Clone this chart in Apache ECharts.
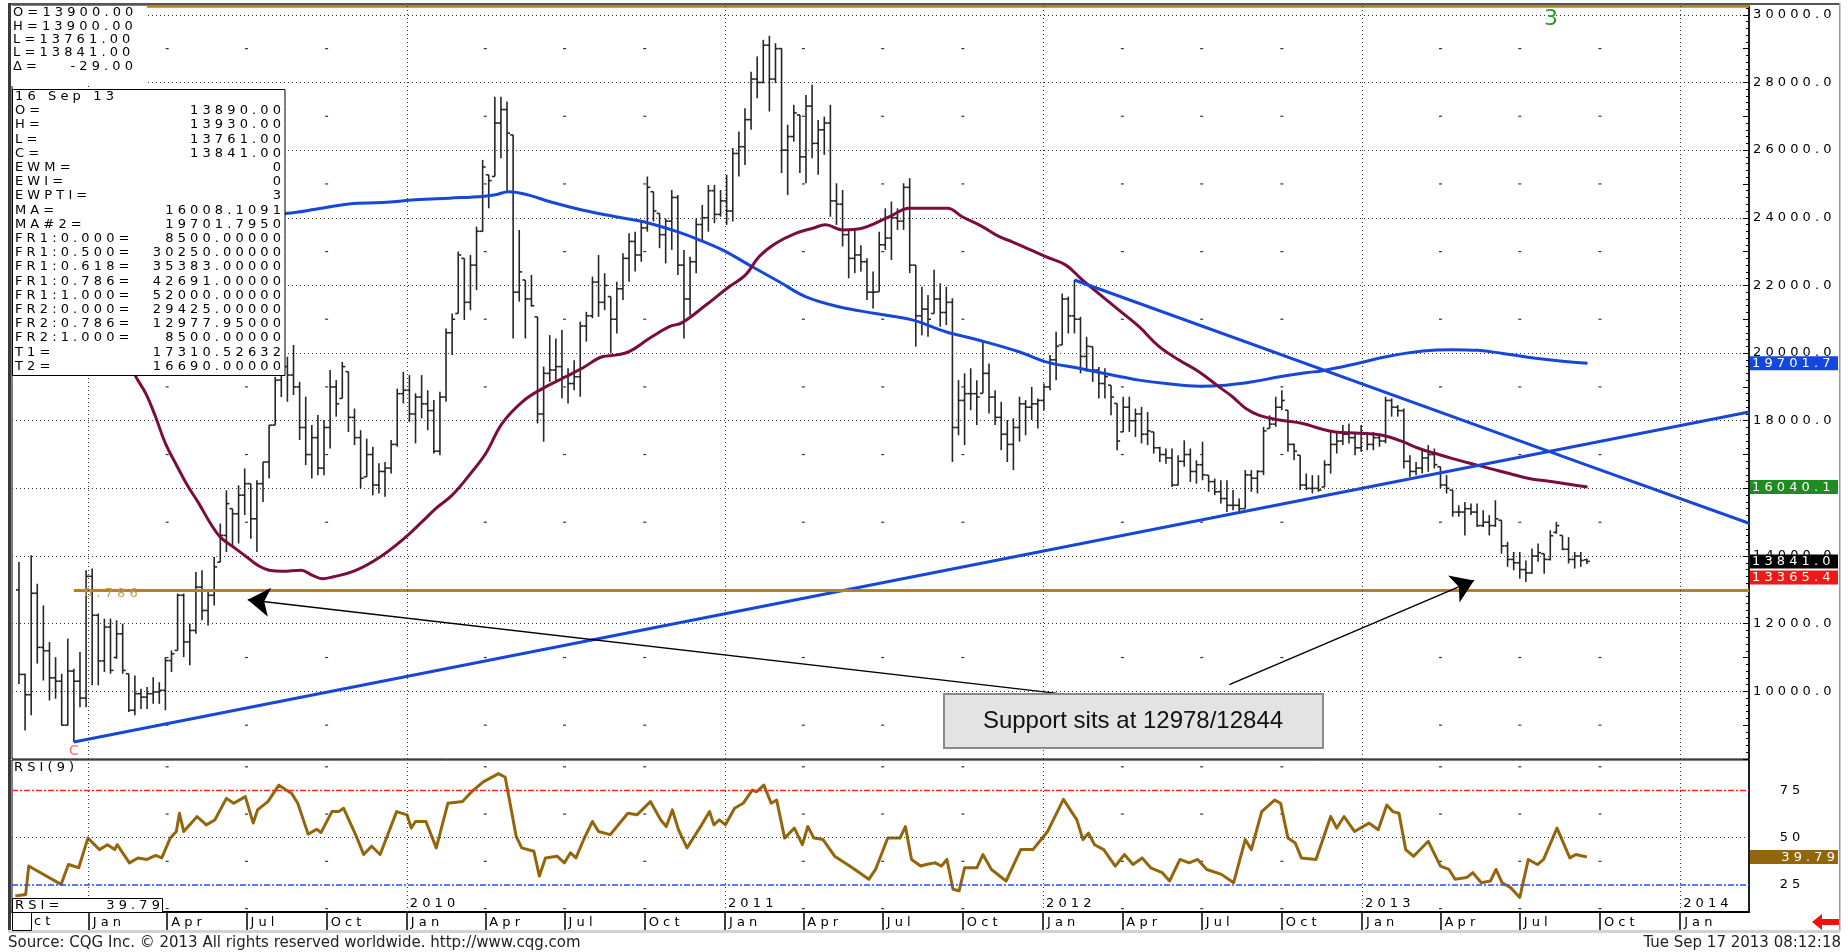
<!DOCTYPE html>
<html>
<head>
<meta charset="utf-8">
<title>Weekly chart - support 12978/12844</title>
<script src="https://cdn.jsdelivr.net/npm/echarts@6.0.0/dist/echarts.min.js"></script>
<style>
  html, body { margin: 0; padding: 0; background: #fff; }
  #chart { width: 1848px; height: 952px; }
</style>
</head>
<body>
<div id="chart"></div>
<script>
// weekly bars, first bar Mon 13 Oct 2008, last bar Mon 16 Sep 2013
const DAY = 864e5;
const firstBar = Date.UTC(2008, 9, 13);
const axisStart = Date.UTC(2008, 9, 5);
const axisEnd = Date.UTC(2014, 2, 21);

const opens = [
  13000,10500,9900,12900,11300,11200,10400,10300,9000,10600,
  10300,9800,13400,12250,10900,11900,11000,11700,10520,9440,
  9930,9830,9930,9980,10030,10910,11210,12840,11460,11800,
  13080,12390,12840,13820,14610,15400,15250,15800,16140,15100,
  16140,16780,17870,19200,19600,19350,19000,17800,17000,17500,
  16600,17800,19000,18660,19450,18100,17500,16340,17000,16100,
  16500,16600,17300,18800,18900,18200,18700,18500,18300,17100,
  18700,20600,21170,22800,21500,22600,23600,25270,25220,26800,
  27200,26450,21800,22160,21600,21070,18200,19400,19500,19600,
  19300,19100,19300,20800,21100,22100,21500,21670,21000,21900,
  22800,23300,22900,23700,24770,24130,23500,23900,24600,22600,
  21600,22700,23800,24000,24800,24100,24500,24200,25900,26100,
  26900,28100,28000,29100,28100,29000,26000,26400,27040,25800,
  27300,26200,26600,26800,24500,24400,23500,22800,22900,22700,
  21800,21810,23200,23400,24000,23900,24900,22600,21100,21300,
  21170,21600,21200,21500,17800,18600,18800,18800,18810,19400,
  18700,18100,17600,17300,17800,18500,18400,18500,18600,19000,
  19800,20240,21600,21100,21000,19900,20190,19500,19100,19050,
  18510,17670,18400,18000,18200,17600,17670,17200,17000,16900,
  16100,16800,17000,16500,16700,16390,16200,15900,15700,15500,
  15500,15400,16400,16300,16500,17770,17900,18400,18310,17300,
  16980,16100,16000,16000,16040,16700,17300,17400,17600,17500,
  17200,17600,17300,17500,17400,18600,18400,18300,16800,16500,
  16600,16900,17000,16640,16100,15950,15300,15300,15400,15300,
  14900,15000,14900,15060,14300,13900,13800,13600,13500,14000,
  14070,13900,14700,14610,14200,13900,14000,13890
];
const highs = [
  13820,10520,14020,13180,12540,11460,11010,10520,11560,10670,
  11160,13580,13630,12300,12150,12150,12100,12000,10520,10470,
  10080,10130,10420,10270,11010,11210,12890,12890,12000,13530,
  13580,12990,13970,14960,15940,15400,16090,16590,16140,16240,
  16780,17870,19300,20300,19890,20240,19150,18710,17870,18170,
  18020,19500,19200,19740,19450,18360,17720,17470,17230,16740,
  16780,17430,18950,19450,19350,18810,19350,18900,18610,18860,
  20730,21170,23000,22800,22900,23740,25710,25270,27580,27580,
  27440,26450,23640,22160,22310,21070,19600,20530,20430,20680,
  19550,19790,20930,21220,22260,22900,22360,21670,22110,22950,
  23540,23590,23890,25220,24770,24130,23980,24820,24670,23050,
  22850,23980,24380,24970,24970,24820,25270,26060,26550,27240,
  28320,28770,29260,29380,29160,29010,26750,27340,27040,27630,
  27930,26890,26990,27340,25020,24820,23640,23640,23190,22800,
  22410,23590,24280,24480,24280,25020,25170,22600,21960,21720,
  22460,22060,21960,21620,19200,19400,19550,19200,20330,19690,
  18900,18560,18020,18070,18710,18610,19000,18660,19100,19940,
  20630,21760,21670,22160,21070,20480,20190,19590,19550,19050,
  18510,18710,18710,18360,18410,18260,17670,17230,17180,17180,
  16980,17420,17180,16830,17380,16390,16290,16240,16240,15950,
  15700,16540,16540,16540,17820,18160,18710,18900,18310,17330,
  16980,16440,16390,16390,16830,17670,17670,17870,17920,17620,
  17870,17670,17670,17620,18710,18660,18460,18360,16980,16780,
  17180,17280,17180,16640,16390,15950,15500,15600,15550,15550,
  15350,15210,15650,15060,14420,14120,14120,13870,14220,14370,
  14070,14760,15010,14610,14560,14120,14120,13930
];
const lows = [
  10220,8840,9290,10820,10320,9730,9780,8990,8990,8500,
  9530,9530,10180,10180,10570,10520,10960,10520,9390,9290,
  9480,9480,9630,9630,9440,10570,11210,11010,10770,11700,
  12100,11950,12540,13820,14120,14320,14370,15210,14510,14120,
  15600,16290,17870,18700,18560,18760,17430,16690,16290,16390,
  16390,17180,18120,18660,17670,17280,16000,16340,15800,15850,
  15750,16440,17230,18510,17970,17330,18070,17720,17030,16980,
  18560,19940,21170,20980,21270,21860,23590,24280,25220,25760,
  24770,20430,21520,20430,21370,17920,17380,19150,19150,18660,
  18510,18900,18710,20340,21030,21070,21270,19990,20580,21570,
  22110,22410,22700,23590,23890,23100,22650,23050,22310,20430,
  21120,22360,23290,23590,23840,24030,23790,23890,25220,25560,
  26600,27530,27980,27140,27980,25320,24670,26250,25320,25020,
  25760,25270,25860,24030,23790,23150,22210,22360,22410,21570,
  21320,21810,23050,22750,23640,23640,22360,20190,20530,20480,
  21170,20780,20830,16780,17570,17280,18310,17870,18810,18210,
  17870,17130,16780,16540,17380,17570,18020,17770,18310,18900,
  19200,20240,20580,20580,19400,19450,19150,18660,18660,18160,
  17130,17670,17670,17520,17330,17280,17030,16780,16730,16040,
  16090,16640,16190,16140,16240,15900,15800,15550,15300,15350,
  15300,15400,15900,15850,16390,17770,17820,18310,17080,16830,
  15950,15950,15850,15900,16040,16440,17030,17280,17330,16980,
  17080,17130,17130,17230,17330,18120,18120,16590,16340,16390,
  16440,16490,16590,15990,15850,15160,15160,14610,15210,14860,
  14860,14610,14860,14070,13680,13580,13330,13230,13480,13830,
  13480,13870,14660,14170,13780,13630,13680,13761
];
const closes = [
  10500,9900,12900,11300,11200,10400,10300,9000,10600,10300,
  9800,13400,12250,10900,11900,10620,11700,10620,9440,9930,
  9830,9930,9980,10030,10910,11110,12840,11460,11800,13080,
  12390,12840,13680,14610,15550,15250,15800,16140,15100,16140,
  16780,17870,19200,19600,19350,19000,17800,17000,17500,16600,
  17800,19000,18500,19600,18100,17500,16300,17000,16100,16500,
  16600,17300,18800,18900,18200,18700,18500,18300,17100,18700,
  20600,21000,22900,21500,22600,23600,25500,25100,26800,27200,
  26500,21800,22400,21600,21400,18200,19400,19500,19600,19300,
  19100,19300,20800,21100,22100,21500,22000,21000,21900,22800,
  23300,22900,23700,24900,24200,23500,23900,24600,22600,21600,
  22700,23800,24000,24800,24100,24500,24200,25900,26100,26900,
  28100,28000,29100,28100,29000,26000,26400,27100,25800,27300,
  26200,26600,26800,24500,24400,23500,22800,22900,22700,21800,
  21800,23200,23400,24000,23900,24900,22600,21100,21300,21000,
  21600,21200,21500,17800,18600,18800,18800,18700,19400,18700,
  18100,17600,17300,17800,18500,18400,18500,18600,19000,19800,
  20200,21600,21100,21000,19900,20200,19500,19100,19300,18700,
  17400,18400,18000,18200,17600,17700,17200,17000,16900,16100,
  16800,17000,16500,16700,16400,16200,15900,15700,15500,15500,
  15400,16400,16300,16500,17700,17900,18400,18600,17300,17100,
  16100,16000,16000,15950,16700,17300,17400,17600,17500,17200,
  17600,17300,17500,17400,18600,18400,18300,16800,16500,16600,
  16900,17000,16700,16100,16000,15300,15300,15400,15300,14900,
  15000,14900,15100,14300,13900,13800,13600,13500,14000,14100,
  13900,14600,14900,14200,13900,14000,13870,13841
];

// moving averages (week number from first bar, value)
const maFastWeek = [15.6,18.9,20.8,22.4,24.0,25.7,27.6,29.5,31.4,33.0,35.5,37.7,39.1,41.0,43.2,46.2,48.1,49.7,51.4,55,
  59,63,66,68.3,71.0,73.8,76.5,79.2,82.5,85.8,89.6,92.3,95.6,97.8,100.0,103.3,106.6,108.7,112.6,116.4,
  119.1,121.3,124.0,127.3,130.1,132.2,135.0,138.2,140.4,143.2,145.9,149.2,152.2,154.6,157.9,160.7,162.8,165.8,168.3,171.6,
  174.3,177.0,180.3,183.6,186.9,190.2,193.4,196.7,198.9,201.1,203.3,206.6,210.4,213.2,215.8,219.1,222.4,224.6,226.8,229.5,
  232.2,235.0,237.7,241.0,244.3,247.5,250.8,254.1,257.1];
const maFastValue = [21000,19400,18800,18110,17330,16730,16090,15550,14960,14560,14220,13920,13730,13580,13550,13580,13430,13330,13380,13560,
  13950,14500,15000,15400,15800,16390,17030,17920,18560,18950,19300,19550,19890,19940,20040,20430,20780,20900,21420,21960,
  22310,22850,23240,23540,23690,23790,23640,23690,23840,24080,24280,24280,24280,24030,23740,23440,23290,23050,22850,22600,
  22160,21760,21270,20780,20190,19790,19450,19000,18710,18360,18160,18020,17920,17770,17670,17640,17600,17520,17380,17180,
  17030,16880,16750,16590,16440,16290,16210,16120,16040];
const maSlowWeek = [40,44.0,48.6,54.1,59.6,65.0,70.5,76.0,78.1,80.3,83.6,86.9,92.3,97.8,103.3,108.7,110.9,115.3,120.2,124.6,
  128.9,134.4,140.4,146.4,151.9,157.4,163.9,168.3,173.8,179.2,183.6,188.0,193.4,197.8,202.2,206.6,210.9,213.7,219.5,224.3,
  230.1,235.0,239.1,243.2,248.6,253.0,257.1];
const maSlowValue = [24100,24130,24250,24410,24450,24530,24580,24630,24680,24770,24670,24480,24230,24030,23840,23540,23390,23050,22550,22110,
  21670,21370,21170,20980,20630,20380,20040,19740,19550,19350,19200,19100,19020,19050,19150,19300,19420,19480,19700,19900,
  20060,20100,20080,19990,19850,19760,19700];

// RSI(9) vertices
const rsiWeek = [-0.6,1.1,1.6,2.6,6.9,8.1,9.8,11.3,13.2,14.5,15.7,16.1,18.1,19.5,21.0,22.4,23.4,24.8,25.8,26.3,
  27.0,29.2,30.7,32.1,34.0,35.2,37.1,38.4,39.1,40.8,42.6,44.7,45.7,47.4,48.8,49.5,51.3,52.4,53.2,55.3,
  56.5,57.8,59.2,61.9,63.6,64.3,65.0,66.7,68.4,70.3,72.7,74.2,76.1,78.6,79.7,81.5,82.4,84.4,85.3,86.3,
  88.2,89.4,90.4,91.3,92.6,94.0,95.0,96.9,99.8,101.3,103.5,105.2,106.1,107.1,108.1,109.5,111.9,113.2,113.9,114.8,
  115.8,117.3,118.7,120.2,120.9,122.1,123.3,124.2,125.5,127.1,128.4,129.3,130.3,131.8,133.7,136.6,139.3,140.4,142.4,144.4,
  145.3,146.3,147.8,148.7,150.2,151.2,152.1,153.1,154.1,155.0,157.0,158.0,159.4,161.8,164.2,166.2,168.6,171.2,173.4,174.4,
  175.3,176.3,177.8,179.7,181.2,182.6,184.1,185.5,187.4,188.6,190.3,191.8,193.2,194.7,197.1,199.1,201.0,202.0,203.7,205.8,
  206.8,208.0,209.2,210.2,212.6,215.0,216.0,217.2,218.9,221.3,222.8,224.2,225.2,226.2,227.3,228.6,231.0,233.0,234.4,235.4,
  237.3,238.3,239.7,241.2,242.1,243.1,244.5,246.0,247.4,248.9,249.9,252.1,254.2,255.2,257];
const rsiValue = [19.2,20,35,33.2,25.3,35.8,34.1,49.8,43.7,46.3,43.7,46.3,36.7,39.3,38.5,40.6,39.3,49.8,53.3,62.9,
  53.3,61.2,56.8,59.4,70.8,68.2,71.7,57.7,64.7,69.1,77.8,73.4,68.2,51.9,54.5,52.7,63.8,63.8,65.6,50.7,
  41.1,45.5,41.1,63.8,62.1,55.1,58.6,58.6,44.6,68.2,69.1,74.3,79.5,83.9,82,50.7,44.6,42.8,29.7,39.3,
  40.2,36.7,42,39.3,49.3,58.6,53.3,51.6,62.9,62.1,69.1,59.4,55.9,64.7,54.2,44.6,56.8,63.8,56.8,59.4,
  56.8,65.6,68.2,75.2,74.3,77.8,68.2,69.9,49.8,55.1,46.3,55.9,49.8,49,40.2,34.1,28,33.2,49.8,49.8,
  55.9,38.5,35,35.8,36.7,35,38.5,22.7,21.9,34.1,34.1,41.1,33.2,27.1,43.7,43.7,53.3,70.3,59.4,49,
  52.4,46.3,43.7,35,41.1,35.8,39.3,34.1,31.5,27.1,38.5,36.7,38.5,33.2,30.6,26.2,49,43.7,63.8,69.9,
  68.2,49.8,47.2,39.3,38.5,61.2,55.1,61.2,53.3,57.7,54.2,67.3,63.8,62.9,43.7,40.2,48.1,35,33.2,28,
  28.9,31.5,26.2,27.1,33.2,26.2,23.6,18.4,38.5,35.8,38.5,55.1,39.3,41.1,39.79];

// trend lines and fibonacci levels (week, value); the edge value is at the right edge
const riseLine = [[9, 8500], [257, 17310.53]];
const riseEdge = 18260;
const fallLine = [[173, 22160], [257, 16690]];
const fallEdge = 14970;
const fibSupport = 12977.95;
const fibSupportStart = 9;
const fibTop = 30250;
const fibTopStart = 21;
const lowMark = [9, 8500];

// annotation arrows: tail -> head
const arrowTail = [[170.2, 9940], [198.4, 10200]];
const arrowHead = [[37.5, 12710], [238.5, 13280]];

const tagValues = [19701.7, 16040.1, 13841.0, 13365.4];
const rsiLast = 39.79;
const monthNames = ['Jan', 'Apr', 'Jul', 'Oct'];
const gridYears = [2009, 2010, 2011, 2012, 2013, 2014];
const labelYears = [2010, 2011, 2012, 2013, 2014];
const oddLevels = [9000, 11000, 13000, 15000, 17000, 19000, 21000, 23000, 25000, 27000, 29000];
const rsiDashLevels = [12.5, 37.5, 62.5, 87.5];

const topPanel = [['O=13900.00', ''], ['H=13900.00', ''], ['L=13761.00', ''], ['L=13841.00', ''], ['\u0394=', '-29.00']];
const boxRows = [
  ['16 Sep 13', ''], ['O=', '13890.00'], ['H=', '13930.00'], ['L=', '13761.00'], ['C=', '13841.00'],
  ['EWM=', '0'], ['EWI=', '0'], ['EWPTI=', '3'], ['MA=', '16008.1091'], ['MA#2=', '19701.7950'],
  ['FR1:0.000=', '8500.00000'], ['FR1:0.500=', '30250.00000'], ['FR1:0.618=', '35383.00000'],
  ['FR1:0.786=', '42691.00000'], ['FR1:1.000=', '52000.00000'], ['FR2:0.000=', '29425.00000'],
  ['FR2:0.786=', '12977.95000'], ['FR2:1.000=', '8500.00000'], ['T1=', '17310.52632'], ['T2=', '16690.00000']
];

// ---------------------------------------------------------------
const FONT = 'DejaVu Sans';
const BLUE = '#1747d6', MAROON = '#7b0d3e', ORANGE = '#b5821c', BROWN = '#93660c';
const tagColors = ['#1446e0', '#1e8c1e', '#000000', '#f01818'];
const sp = s => String(s).split('').join(' ');
const weekTime = w => firstBar + w * 7 * DAY;

const bars = opens.map((o, i) => [weekTime(i), o, highs[i], lows[i], closes[i]]);

const quarterTicks = [];
for (let y = 2008; y <= 2014; y++) {
  [0, 3, 6, 9].forEach(m => {
    const t = Date.UTC(y, m, 1);
    if (t >= axisStart && t <= axisEnd) quarterTicks.push(t);
  });
}
const yearLines = gridYears.map(y => Date.UTC(y, 0, 1));
const yearLabelTicks = labelYears.map(y => Date.UTC(y, 0, 1));
const midQuarters = quarterTicks.filter(t => new Date(t).getUTCMonth() !== 0);
const dashMain = [], dashRsi = [];
midQuarters.forEach(t => {
  oddLevels.forEach(v => dashMain.push([t, v]));
  rsiDashLevels.forEach(v => dashRsi.push([t, v]));
});

function renderOHLC(params, api) {
  const t = api.value(0);
  const x = api.coord([t, api.value(2)])[0];
  const yO = api.coord([t, api.value(1)])[1];
  const yH = api.coord([t, api.value(2)])[1];
  const yL = api.coord([t, api.value(3)])[1];
  const yC = api.coord([t, api.value(4)])[1];
  const st = { stroke: '#262626', lineWidth: 1.6 };
  return {
    type: 'group',
    children: [
      { type: 'line', shape: { x1: x, y1: yH, x2: x, y2: yL }, style: st },
      { type: 'line', shape: { x1: x - 3, y1: yO, x2: x, y2: yO }, style: st },
      { type: 'line', shape: { x1: x, y1: yC, x2: x + 3, y2: yC }, style: st }
    ]
  };
}

const janLines = yearLines.map(t => ({ xAxis: t }));
const dotted = { type: [1, 3], color: '#333', width: 1 };

const tagRich = {};
tagColors.forEach((c, i) => {
  tagRich['t' + i] = { backgroundColor: c, color: '#fff', width: 84, align: 'left',
    padding: [1, 2, 0, 2], lineHeight: 13, fontFamily: FONT, fontSize: 13 };
});

const txt = (x, y, text, extra) => ({
  type: 'text', x: x, y: y, z: 100,
  style: Object.assign({ text: text, fontFamily: FONT, fontSize: 13, fill: '#000',
    align: 'left', verticalAlign: 'middle' }, extra || {})
});

const graphics = [];
// frame
graphics.push({ type: 'rect', z: 90, shape: { x: 8, y: 3, width: 1832, height: 2 }, style: { fill: '#555' } });
graphics.push({ type: 'rect', z: 90, shape: { x: 8, y: 3, width: 3, height: 928 }, style: { fill: '#3a3a3a' } });
graphics.push({ type: 'rect', z: 90, shape: { x: 1839, y: 3, width: 1.5, height: 928 }, style: { fill: '#9a9a9a' } });
graphics.push({ type: 'rect', z: 90, shape: { x: 8, y: 930, width: 1832, height: 3 }, style: { fill: '#d2d2d2' } });
// top-left panels
graphics.push({ type: 'rect', z: 95, shape: { x: 11, y: 6, width: 136, height: 80 }, style: { fill: '#fff' } });
topPanel.forEach((r, i) => {
  graphics.push(txt(13, 13 + i * 13.3, sp(r[0])));
  if (r[1]) graphics.push(txt(133, 13 + i * 13.3, sp(r[1]), { align: 'right' }));
});
graphics.push({ type: 'rect', z: 96, shape: { x: 12.5, y: 89.5, width: 272.5, height: 286 },
  style: { fill: '#fff', stroke: '#000', lineWidth: 1 } });
boxRows.forEach((r, i) => {
  const y = 96.7 + i * 14.2;
  graphics.push(txt(15, y, sp(r[0])));
  if (r[1]) graphics.push(txt(281, y, sp(r[1]), { align: 'right' }));
});
// rsi labels
graphics.push(txt(14, 768, sp('RSI(9)')));
graphics.push({ type: 'rect', z: 96, shape: { x: 12.5, y: 898.5, width: 150, height: 14 },
  style: { fill: '#fff', stroke: '#000', lineWidth: 1 } });
graphics.push(txt(15, 905.5, sp('RSI=')));
graphics.push(txt(160, 905.5, sp(rsiLast.toFixed(2)), { align: 'right' }));
// month row first cell
graphics.push({ type: 'rect', z: 96, shape: { x: 12.5, y: 912.5, width: 19, height: 18 },
  style: { fill: '#fff', stroke: '#000', lineWidth: 1 } });
graphics.push(txt(34, 921.5, sp('ct')));
// annotation text box
graphics.push({ type: 'rect', z: 96, shape: { x: 944, y: 694, width: 379, height: 54 },
  style: { fill: '#e3e3e3', stroke: '#8a8a8a', lineWidth: 2 } });
graphics.push(txt(1133, 721.5, 'Support sits at 12978/12844',
  { align: 'center', fontFamily: 'Liberation Sans', fontSize: 24, fill: '#111' }));
// fib and wave labels
graphics.push(txt(84, 594, sp('0.786'), { fill: '#c39a4e' }));
graphics.push(txt(1551, 19, '3', { align: 'center', fontSize: 22, fill: '#2a9c2a' }));
// footer
graphics.push(txt(8, 943, 'Source: CQG Inc. \u00a9 2013 All rights reserved worldwide. http://www.cqg.com',
  { fontSize: 15, fill: '#222' }));
graphics.push(txt(1841, 943, 'Tue Sep 17 2013 08:12:18', { align: 'right', fontSize: 15, fill: '#222' }));
graphics.push({ type: 'polygon', z: 100,
  shape: { points: [[1812, 922], [1822, 914], [1822, 919], [1839, 919], [1839, 925], [1822, 925], [1822, 930]] },
  style: { fill: '#ee1111' } });

const chart = echarts.init(document.getElementById('chart'));
const option = {
  animation: false,
  backgroundColor: '#fff',
  grid: [
    { left: 12, top: 6, width: 1737, height: 753, show: true, borderColor: '#000', borderWidth: 1 },
    { left: 12, top: 760, width: 1737, height: 152, show: true, borderColor: '#000', borderWidth: 1 }
  ],
  xAxis: [
    { gridIndex: 0, type: 'value', min: axisStart, max: axisEnd, show: false },
    {
      gridIndex: 1, type: 'value', min: axisStart, max: axisEnd, position: 'bottom',
      axisLine: { lineStyle: { color: '#000', width: 2 } },
      axisTick: { customValues: quarterTicks, length: 18, lineStyle: { color: '#000', width: 1.5 } },
      axisLabel: {
        customValues: quarterTicks, align: 'left', margin: 4, padding: [0, 0, 0, 4],
        color: '#000', fontFamily: FONT, fontSize: 13,
        formatter: v => sp(monthNames[new Date(v).getUTCMonth() / 3])
      },
      splitLine: { show: false }
    },
    {
      gridIndex: 1, type: 'value', min: axisStart, max: axisEnd, position: 'bottom',
      axisLine: { show: false }, axisTick: { show: false }, splitLine: { show: false },
      axisLabel: {
        inside: true, customValues: yearLabelTicks, align: 'left', margin: 2, padding: [0, 0, 0, 3],
        color: '#000', fontFamily: FONT, fontSize: 13,
        formatter: v => sp(String(new Date(v).getUTCFullYear()))
      }
    }
  ],
  yAxis: [
    {
      gridIndex: 0, type: 'value', position: 'right', min: 8000, max: 30260, interval: 2000,
      axisLine: { show: true, lineStyle: { color: '#000', width: 1.5 } },
      axisTick: { show: false },
      axisLabel: {
        align: 'left', margin: 4, color: '#000', fontFamily: FONT, fontSize: 13,
        showMinLabel: false,
        formatter: v => (v >= 10000 && v <= 30000 && v % 2000 === 0) ? sp(v.toFixed(1)) : ''
      },
      splitLine: { show: true, lineStyle: dotted }
    },
    {
      gridIndex: 0, type: 'value', position: 'right', min: 8000, max: 30260, interval: 1000,
      axisLine: { show: false }, axisLabel: { show: false }, splitLine: { show: false },
      axisTick: { show: true, inside: true, length: 6, lineStyle: { color: '#000' } },
      minorTick: { show: true, splitNumber: 5, length: 3, lineStyle: { color: '#000' } }
    },
    {
      gridIndex: 0, type: 'value', position: 'right', min: 8000, max: 30260, z: 5,
      axisLine: { show: false }, axisTick: { show: false }, splitLine: { show: false },
      axisLabel: {
        customValues: tagValues, margin: 1, align: 'left', rich: tagRich,
        formatter: v => {
          const i = tagValues.findIndex(t => Math.abs(t - v) < 0.01);
          return i < 0 ? '' : '{t' + i + '|' + sp(tagValues[i].toFixed(1)) + '}';
        }
      }
    },
    {
      gridIndex: 1, type: 'value', position: 'right', min: 10.7, max: 91.1,
      axisLine: { show: true, lineStyle: { color: '#000', width: 1.5 } },
      axisTick: { show: false }, splitLine: { show: false },
      axisLabel: { customValues: [25, 50, 75], align: 'center', margin: 41, color: '#000',
        fontFamily: FONT, fontSize: 13, formatter: v => sp(String(v)) }
    },
    {
      gridIndex: 1, type: 'value', position: 'right', min: 10.7, max: 91.1, z: 5,
      axisLine: { show: false }, axisTick: { show: false }, splitLine: { show: false },
      axisLabel: {
        customValues: [rsiLast], margin: 1, align: 'left',
        rich: { r: { backgroundColor: BROWN, color: '#fff', width: 84, align: 'right',
          padding: [1, 3, 0, 1], lineHeight: 13, fontFamily: FONT, fontSize: 13 } },
        formatter: v => '{r|' + sp(rsiLast.toFixed(2)) + '}'
      }
    }
  ],
  series: [
    {
      name: 'marks', type: 'scatter', xAxisIndex: 0, yAxisIndex: 0, silent: true, z: 1,
      symbol: 'rect', symbolSize: [3, 1.2], itemStyle: { color: '#000' }, data: dashMain
    },
    {
      name: 'price', type: 'custom', xAxisIndex: 0, yAxisIndex: 0, z: 2,
      renderItem: renderOHLC, encode: { x: 0, y: [1, 2, 3, 4] }, data: bars
    },
    {
      name: 'MA#2', type: 'line', xAxisIndex: 0, yAxisIndex: 0, z: 3, smooth: 0.4, showSymbol: false,
      lineStyle: { color: BLUE, width: 3 },
      data: maSlowWeek.map((w, i) => [weekTime(w), maSlowValue[i]]),
      markLine: { silent: true, symbol: 'none', label: { show: false }, lineStyle: dotted, data: janLines }
    },
    {
      name: 'MA', type: 'line', xAxisIndex: 0, yAxisIndex: 0, z: 3, smooth: 0.4, showSymbol: false,
      lineStyle: { color: MAROON, width: 3 },
      data: maFastWeek.map((w, i) => [weekTime(w), maFastValue[i]])
    },
    {
      name: 'T1', type: 'line', xAxisIndex: 0, yAxisIndex: 0, z: 4, showSymbol: false,
      lineStyle: { color: BLUE, width: 3 },
      data: riseLine.map(p => [weekTime(p[0]), p[1]]).concat([[axisEnd, riseEdge]])
    },
    {
      name: 'T2', type: 'line', xAxisIndex: 0, yAxisIndex: 0, z: 4, showSymbol: false,
      lineStyle: { color: BLUE, width: 3 },
      data: fallLine.map(p => [weekTime(p[0]), p[1]]).concat([[axisEnd, fallEdge]])
    },
    {
      name: 'FR1 0.500', type: 'line', xAxisIndex: 0, yAxisIndex: 0, z: 4, showSymbol: false,
      lineStyle: { color: ORANGE, width: 3 },
      data: [[weekTime(fibTopStart), fibTop], [axisEnd, fibTop]]
    },
    {
      name: 'FR2 0.786', type: 'line', xAxisIndex: 0, yAxisIndex: 0, z: 4, showSymbol: false,
      lineStyle: { color: ORANGE, width: 3 },
      data: [[weekTime(fibSupportStart), fibSupport], [axisEnd, fibSupport]]
    },
    {
      name: 'arrows', type: 'line', xAxisIndex: 0, yAxisIndex: 0, z: 6, showSymbol: false, data: [],
      markLine: {
        silent: true, symbol: ['none', 'arrow'], symbolSize: 22, label: { show: false },
        itemStyle: { color: '#000' },
        lineStyle: { color: '#000', width: 1.5, type: 'solid' },
        data: arrowTail.map((t, i) => [
          { coord: [weekTime(t[0]), t[1]] },
          { coord: [weekTime(arrowHead[i][0]), arrowHead[i][1]] }
        ])
      }
    },
    {
      name: 'low', type: 'scatter', xAxisIndex: 0, yAxisIndex: 0, z: 5, symbolSize: 0, silent: true,
      data: [[weekTime(lowMark[0]), lowMark[1]]],
      label: { show: true, position: 'bottom', distance: 2, formatter: 'C', color: '#ff4a4a',
        fontFamily: FONT, fontSize: 14 }
    },
    {
      name: 'rsi marks', type: 'scatter', xAxisIndex: 1, yAxisIndex: 3, silent: true, z: 1,
      symbol: 'rect', symbolSize: [3, 1.2], itemStyle: { color: '#000' }, data: dashRsi
    },
    {
      name: 'RSI', type: 'line', xAxisIndex: 1, yAxisIndex: 3, z: 3, showSymbol: false,
      lineStyle: { color: BROWN, width: 3, join: 'round' },
      data: rsiWeek.map((w, i) => [weekTime(w), rsiValue[i]]),
      markLine: {
        silent: true, symbol: 'none', label: { show: false }, lineStyle: dotted,
        data: janLines.concat([
          { yAxis: 75, lineStyle: { color: '#ff2020', type: [6, 2, 2, 2], width: 1.3 } },
          { yAxis: 50, lineStyle: dotted },
          { yAxis: 25, lineStyle: { color: '#2f4bff', type: [6, 2, 2, 2], width: 1.5 } }
        ])
      }
    }
  ],
  graphic: graphics
};
chart.setOption(option);

window.onresize = () => {
  chart.resize();
};
</script>
</body>
</html>
